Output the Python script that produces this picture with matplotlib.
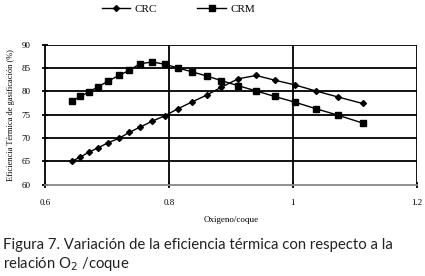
import matplotlib.pyplot as plt

# values
o2_coque = [0.643, 0.657, 0.671, 0.686, 0.702, 0.719, 0.736, 0.753, 0.773, 0.794,
            0.815, 0.837, 0.861, 0.885, 0.912, 0.941, 0.971, 1.003, 1.037, 1.073, 1.113]
crc = [65.0, 65.9, 67.0, 67.9, 69.0, 69.9, 71.2, 72.3, 73.6, 74.8,
       76.3, 77.7, 79.2, 80.9, 82.7, 83.4, 82.4, 81.4, 80.1, 78.8, 77.4]
crm = [77.9, 78.9, 79.9, 81.0, 82.2, 83.4, 84.5, 85.9, 86.3, 85.8,
       85.0, 84.2, 83.3, 82.3, 81.2, 80.1, 78.9, 77.7, 76.3, 74.9, 73.2]
xticks = [0.6, 0.8, 1.0, 1.2]
xticklabels = ['0.6', '0.8', '1', '1.2']
yticks = [60, 65, 70, 75, 80, 85, 90]

serif = 'Liberation Serif'

fig = plt.figure(figsize=(4.25, 2.76), dpi=100)
ax = fig.add_axes([0.106, 0.331, 0.874, 0.507])

for y in yticks[1:]:
    ax.axhline(y, color='black', lw=1.3, zorder=1)
for x in xticks[1:]:
    ax.axvline(x, color='black', lw=1.3, zorder=1)

l1, = ax.plot(o2_coque, crc, color='black', lw=1.0, marker='D', markersize=3, zorder=3, label='CRC')
l2, = ax.plot(o2_coque, crm, color='black', lw=1.0, marker='s', markersize=4.5, zorder=3, label='CRM')

ax.set_xlim(0.6, 1.2)
ax.set_ylim(60, 90)
ax.set_xticks(xticks)
ax.set_xticklabels(xticklabels, fontfamily=serif, fontsize=6.5)
ax.set_yticks(yticks)
ax.set_yticklabels([str(v) for v in yticks], fontfamily=serif, fontsize=6.5)
ax.tick_params(direction='inout', length=5, width=1.3, pad=8)
for s in ['top', 'right']:
    ax.spines[s].set_visible(False)
ax.spines['left'].set_linewidth(1.3)
ax.spines['bottom'].set_color('#888888')
ax.spines['bottom'].set_linewidth(1.3)

ax.set_xlabel('Oxigeno/coque', fontfamily=serif, fontsize=6.5, labelpad=6)
ax.set_ylabel('Eficiencia Térmica de gasificación (%)', fontfamily=serif, fontsize=6, labelpad=5)

fig.legend(handles=[l1, l2], loc='upper center', bbox_to_anchor=(0.42, 1.02), ncol=2,
           frameon=False, prop={'family': serif, 'size': 8}, handlelength=2.6, columnspacing=3.6,
           handletextpad=0.4)

fig.text(0.008, 0.098, 'Figura 7. Variación de la eficiencia térmica con respecto a la',
         fontfamily='Lato', fontsize=10.7, va='baseline', color='#222222')
fig.text(0.008, 0.028, 'relación O$_2$ /coque', fontfamily='Lato', fontsize=10.7, va='baseline',
         color='#222222')

fig.savefig('out.png', dpi=100)
